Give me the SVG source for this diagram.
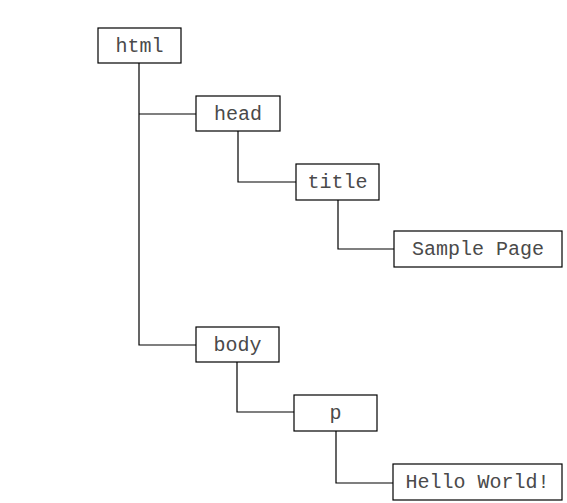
<svg xmlns="http://www.w3.org/2000/svg" width="567" height="503" viewBox="0 0 567 503">
<style>
.box{fill:#fff;stroke:#000;stroke-width:1.2}
.lbl{font-family:"Liberation Mono","Courier New",monospace;font-size:20px;fill:#4a4a4a;text-anchor:middle;dominant-baseline:central}
.con{fill:none;stroke:#000;stroke-width:1.2}
</style>
<rect width="567" height="503" fill="#fff"/>
<g id="connectors">
<path class="con" d="M139,63 V345 H196"/>
<path class="con" d="M139,114 H196"/>
<path class="con" d="M238,131 V182 H296"/>
<path class="con" d="M338,200 V249 H394"/>
<path class="con" d="M237,362 V412 H294"/>
<path class="con" d="M336,431 V483 H393"/>
</g>
<g id="html"><rect class="box" x="98" y="28" width="83" height="35"/><text class="lbl" x="139.5" y="46">html</text></g>
<g id="head"><rect class="box" x="196" y="96" width="84" height="35"/><text class="lbl" x="238" y="114">head</text></g>
<g id="title"><rect class="box" x="296" y="164" width="83" height="36"/><text class="lbl" x="337.5" y="182.5">title</text></g>
<g id="sample"><rect class="box" x="394" y="231" width="168" height="36"/><text class="lbl" x="478" y="249.5">Sample Page</text></g>
<g id="body"><rect class="box" x="196" y="327" width="83" height="35"/><text class="lbl" x="237.5" y="345">body</text></g>
<g id="p"><rect class="box" x="294" y="395" width="83" height="36"/><text class="lbl" x="335.5" y="413.5">p</text></g>
<g id="hello"><rect class="box" x="393" y="464" width="169" height="36"/><text class="lbl" x="477.5" y="482.5">Hello World!</text></g>
</svg>
